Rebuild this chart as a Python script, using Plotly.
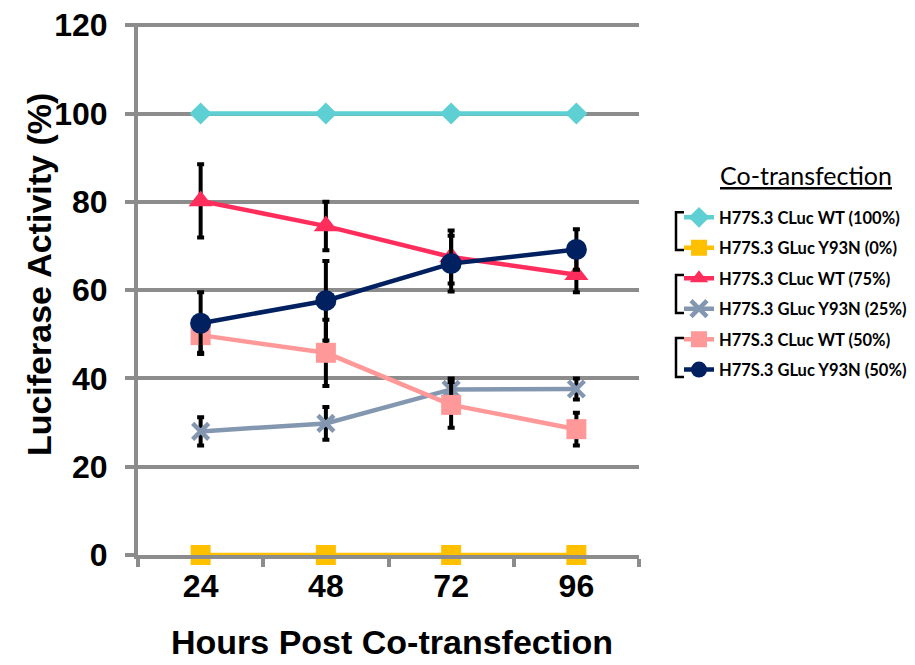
import plotly.graph_objects as go

hours = ["24", "48", "72", "96"]
y_ticks = [0, 20, 40, 60, 80, 100, 120]

names = [
    "H77S.3 CLuc WT (100%)",
    "H77S.3 GLuc Y93N (0%)",
    "H77S.3 CLuc WT (75%)",
    "H77S.3 GLuc Y93N (25%)",
    "H77S.3 CLuc WT (50%)",
    "H77S.3 GLuc Y93N (50%)",
]
cluc_100 = [100, 100, 100, 100]
gluc_0 = [0, 0, 0, 0]
cluc_75 = [80.2, 74.5, 67.5, 63.5]
cluc_75_err = [8.3, 5.5, 6.0, 4.0]
gluc_25 = [28.0, 29.8, 37.5, 37.6]
gluc_25_err = [3.2, 3.7, 2.5, 2.4]
cluc_50 = [49.8, 45.8, 34.0, 28.5]
cluc_50_err = [4.0, 7.5, 5.2, 3.7]
gluc_50 = [52.5, 57.6, 66.0, 69.2]
gluc_50_err = [7.0, 9.0, 6.3, 4.6]

series = [
    (cluc_100, None, "#5ECFD3", "diamond", 17),
    (gluc_0, None, "#FFC000", "square", 20),
    (cluc_75, cluc_75_err, "#FF2D5C", "triangle-up", 21),
    (gluc_25, gluc_25_err, "#8497B0", "x-thin-open", 16),
    (cluc_50, cluc_50_err, "#FF9999", "square", 20),
    (gluc_50, gluc_50_err, "#002060", "circle", 21),
]

# page offset caused by the default 8px body margin
OFF = 8
FW, FH = 915 - OFF, 665 - OFF
YMAX = 120.5
PX_PER_UNIT = 530 / 120
H = PX_PER_UNIT * YMAX
L, W = 138 - OFF, 501
T = 555 - OFF - H

fig = go.Figure()
for i, (vals, err, col, sym, sz) in enumerate(series):
    marker = dict(color=col, symbol=sym, size=sz)
    if sym == "x-thin-open":
        marker["line"] = dict(color=col, width=4.5)
    fig.add_trace(go.Scatter(
        x=hours, y=vals, name=names[i], mode="lines+markers",
        line=dict(color=col, width=4.5), marker=marker,
        legendgroup=f"g{i}",
        error_y=dict(type="data", array=err, visible=err is not None,
                     color="black", thickness=4, width=3.5),
        cliponaxis=False,
    ))


def px_x(p):
    return (p - OFF - L) / W


def px_y(p):
    return (T + H - (p - OFF)) / H


grid = "#8C8C8C"
fig.update_layout(
    width=FW, height=FH,
    margin=dict(l=L, r=FW - L - W, t=T, b=FH - T - H, autoexpand=False),
    plot_bgcolor="white", paper_bgcolor="white",
    font=dict(family="Liberation Sans", color="black"),
    showlegend=True,
    legend=dict(
        x=px_x(679), y=px_y(200), xanchor="left", yanchor="top",
        font=dict(family="Lato", size=16.5, color="black", weight="bold"),
        tracegroupgap=6, traceorder="grouped", itemwidth=30,
        bgcolor="rgba(0,0,0,0)",
    ),
    xaxis=dict(
        type="category", range=[-0.5, 3.5], automargin=False,
        showgrid=False, showline=True, linecolor=grid, linewidth=4,
        ticks="outside", tickson="boundaries", ticklen=8, tickwidth=3.5, tickcolor=grid,
        ticklabeloverflow="allow",
        tickfont=dict(size=32, family="Liberation Sans", weight="bold"),
    ),
    yaxis=dict(
        range=[0, YMAX], tickvals=y_ticks, automargin=False,
        showgrid=True, gridcolor=grid, gridwidth=4,
        zeroline=False,
        showline=True, linecolor=grid, linewidth=4,
        ticks="outside", ticklen=9, tickwidth=4, tickcolor=grid,
        ticklabelstandoff=11, ticklabeloverflow="allow",
        tickfont=dict(size=32, family="Liberation Sans", weight="bold"),
    ),
)

fig.add_annotation(
    xref="paper", yref="paper", x=px_x(392), y=px_y(642), xanchor="center", yanchor="middle",
    text="<b>Hours Post Co-transfection</b>", showarrow=False,
    font=dict(family="Liberation Sans", size=34, color="black"),
)
fig.add_annotation(
    xref="paper", yref="paper", x=px_x(39), y=px_y(275), xanchor="center", yanchor="middle",
    text="<b>Luciferase Activity (%)</b>", showarrow=False, textangle=-90,
    font=dict(family="Liberation Sans", size=34, color="black"),
)
fig.add_annotation(
    xref="paper", yref="paper", x=px_x(806), y=px_y(175), xanchor="center", yanchor="middle",
    text="<u>Co-transfection</u>", showarrow=False,
    font=dict(family="Lato", size=25, color="black"),
)

# grouping brackets
for (y0, y1) in [(212, 250), (275, 313), (338, 377)]:
    fig.add_shape(type="path", xref="paper", yref="paper",
                  path=f"M {px_x(684)} {px_y(y0)} L {px_x(676)} {px_y(y0)} "
                       f"L {px_x(676)} {px_y(y1)} L {px_x(684)} {px_y(y1)}",
                  line=dict(color="black", width=2.5))

fig.write_html("out.html")
